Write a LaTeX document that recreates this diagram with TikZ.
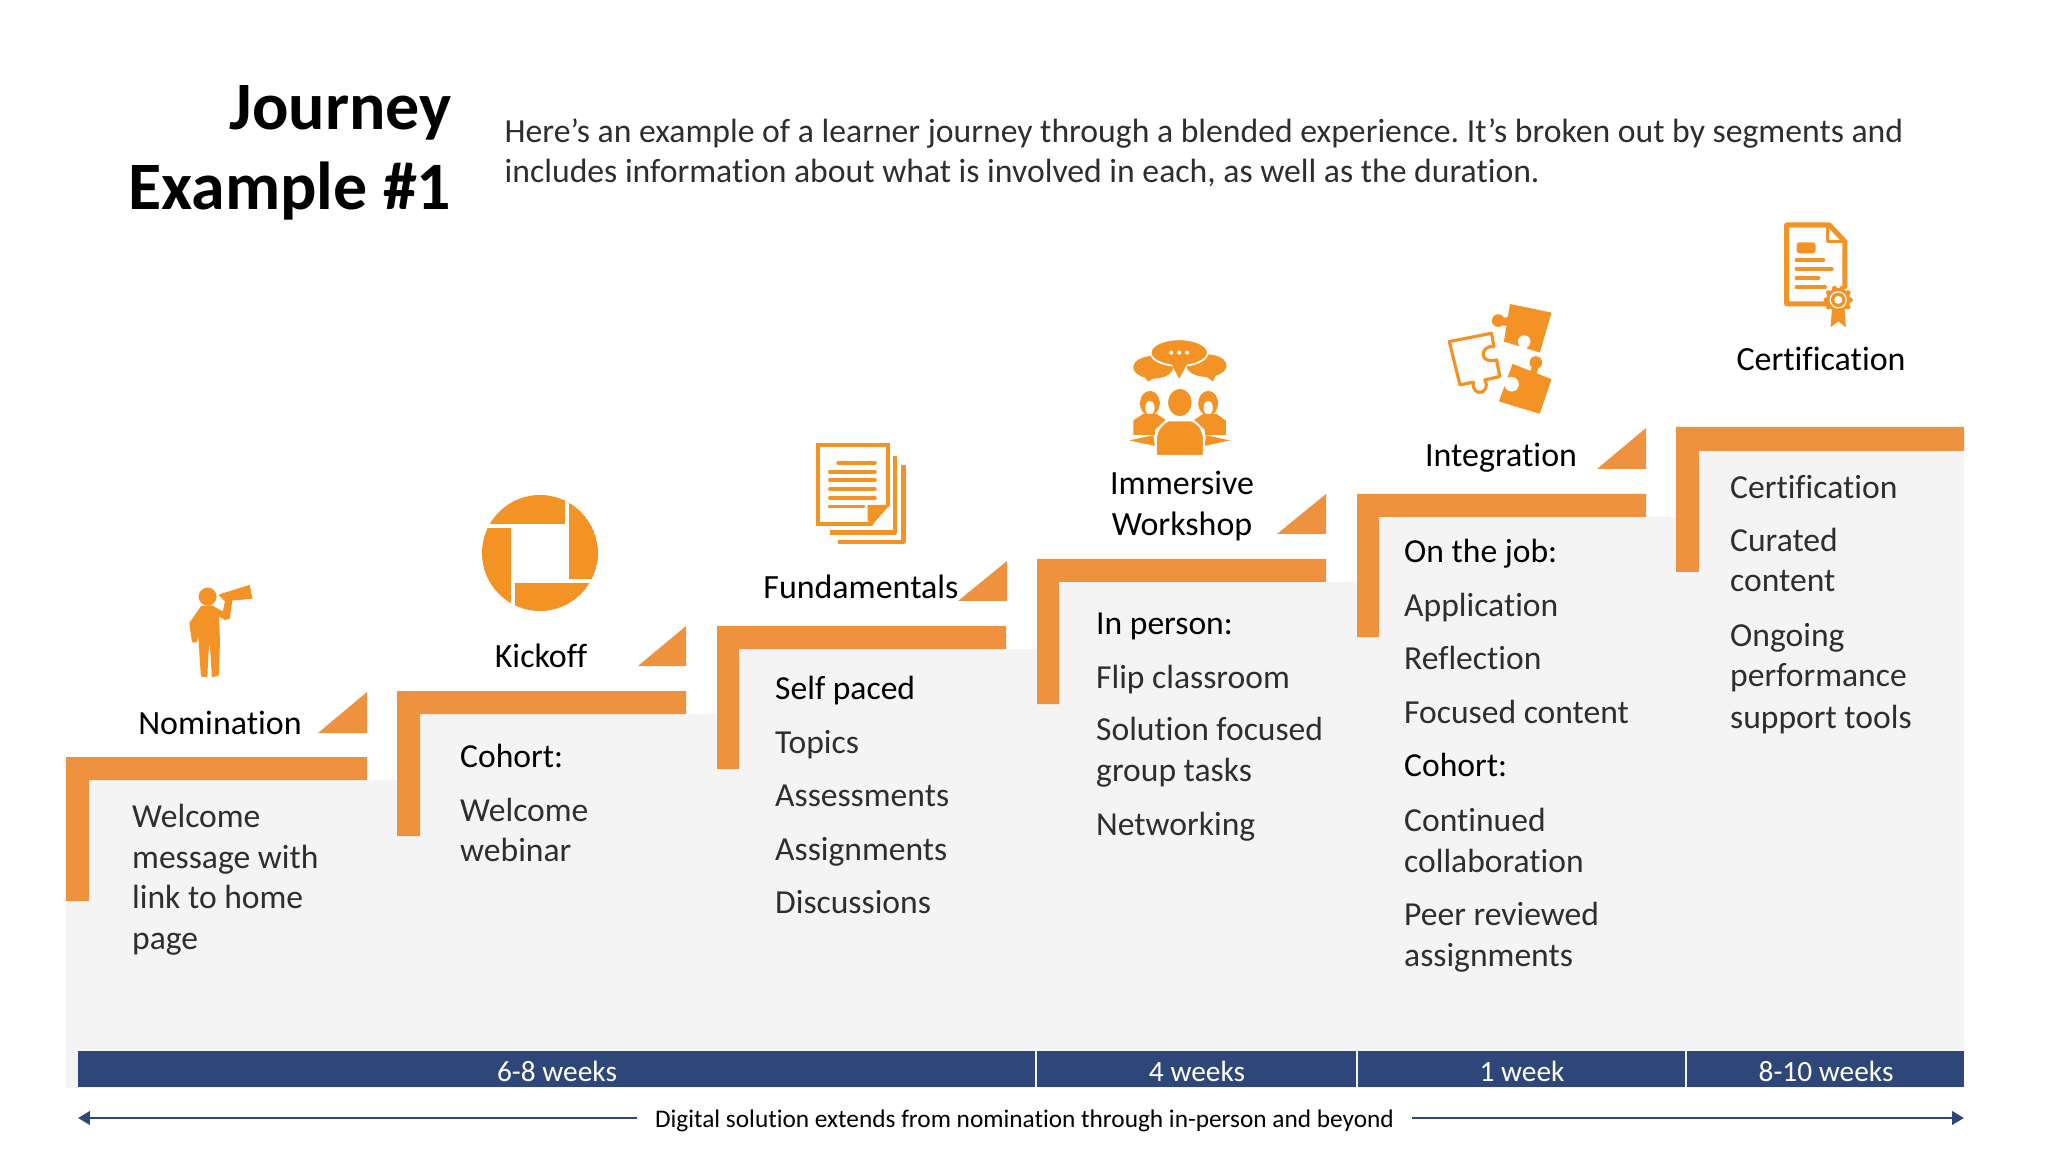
\documentclass[tikz,border=0pt]{standalone}
\usepackage{fontspec}
\setmainfont{Carlito}[Ligatures={NoCommon}]
\usetikzlibrary{arrows.meta}
\definecolor{stepgrey}{HTML}{F4F4F5}
\definecolor{barorange}{HTML}{EF9240}
\definecolor{iconorange}{HTML}{F39325}
\definecolor{navy}{HTML}{2F4778}
\definecolor{lighttext}{HTML}{2E2E2E}
\tikzset{
  x=0.01cm,y=-0.01cm,
  bodytxt/.style={anchor=base west,inner sep=0pt,xshift=-0.15pt,yshift=-0.55pt,text=lighttext,font=\fontsize{9.55pt}{11pt}\selectfont},
  headtxt/.style={bodytxt,text=black},
  labeltxt/.style={anchor=base,inner sep=0pt,yshift=-0.55pt,text=black,font=\fontsize{9.65pt}{11pt}\selectfont},
  titletxt/.style={anchor=base east,inner sep=0pt,yshift=-1.1pt,text=black,font=\fontsize{19.3pt}{23pt}\selectfont\bfseries},
  desctxt/.style={anchor=base west,inner sep=0pt,text=lighttext,font=\fontsize{9.58pt}{11pt}\selectfont},
  weektxt/.style={anchor=base,inner sep=0pt,text=white,font=\fontsize{8.35pt}{10pt}\selectfont},
  bandseg/.style={fill=navy,draw=none},
  stepbar/.style={fill=barorange,draw=none},
  spanline/.style={draw=navy,line width=0.8pt,-{Triangle[length=3.4pt,width=3.8pt]}},
  zoomthird/.style={x=0.003333cm,y=-0.003333cm},
  iconline/.style={draw=iconorange,line cap=round,line join=round}
}
\frenchspacing
\newcommand\bl[4]{\node[bodytxt] (#1) at (#2,#3) {#4};}
\newcommand\hl[4]{\node[headtxt] (#1) at (#2,#3) {#4};}
\begin{document}
\begin{tikzpicture}
\useasboundingbox (0,0) rectangle (2048,1152);
\fill[white] (0,0) rectangle (2048,1152);
% grey stairs
\fill[stepgrey] (66,1088) -- (66,780) -- (397,780) -- (397,714) -- (717,714) -- (717,649) -- (1037,649) -- (1037,582) -- (1357,582) -- (1357,517) -- (1676,517) -- (1676,451) -- (1964,451) -- (1964,1088) -- cycle;
% orange steps
\fill[stepbar] (66,757) -- (367,757) -- (367,780) -- (89,780) -- (89,901) -- (66,901) -- cycle;
\fill[stepbar] (397,691) -- (686,691) -- (686,714) -- (420,714) -- (420,836) -- (397,836) -- cycle;
\fill[stepbar] (717,626) -- (1006,626) -- (1006,649) -- (739,649) -- (739,769) -- (717,769) -- cycle;
\fill[stepbar] (1037,559) -- (1326,559) -- (1326,582) -- (1059,582) -- (1059,704) -- (1037,704) -- cycle;
\fill[stepbar] (1357,494) -- (1646,494) -- (1646,517) -- (1379,517) -- (1379,637) -- (1357,637) -- cycle;
\fill[stepbar] (1676,427) -- (1964,427) -- (1964,451) -- (1699,451) -- (1699,572) -- (1676,572) -- cycle;
% triangles
\fill[stepbar] (318,733) -- (367,692) -- (367,733) -- cycle;
\fill[stepbar] (638,666) -- (686,626) -- (686,666) -- cycle;
\fill[stepbar] (958,601) -- (1007,561) -- (1007,601) -- cycle;
\fill[stepbar] (1277,534) -- (1326,494) -- (1326,534) -- cycle;
\fill[stepbar] (1597,469) -- (1646,428) -- (1646,469) -- cycle;
% title and intro
\node[titletxt] (title1) at (452,126) {Journey};
\node[titletxt] (title2) at (452,206) {Example \#1};
\node[desctxt] (intro1) at (504,142.5) {Here’s an example of a learner journey through a blended experience. It’s broken out by segments and};
\node[desctxt] (intro2) at (504,183) {includes information about what is involved in each, as well as the duration.};
% labels
\node[labeltxt] (lab1) at (220,733) {Nomination};
\node[labeltxt] (lab2) at (541,666) {Kickoff};
\node[labeltxt] (lab3) at (861,597) {Fundamentals};
\node[labeltxt] (lab4a) at (1182,493) {Immersive};
\node[labeltxt] (lab4b) at (1182,534) {Workshop};
\node[labeltxt] (lab5) at (1501,465) {Integration};
\node[labeltxt] (lab6) at (1821,369) {Certification};
% step 1
\bl{a1}{132}{826}{Welcome}
\bl{a2}{132}{867}{message with}
\bl{a3}{132}{907}{link to home}
\bl{a4}{132}{948}{page}
% step 2
\hl{b1}{460}{766}{Cohort:}
\bl{b2}{460}{820}{Welcome}
\bl{b3}{460}{860}{webinar}
% step 3
\hl{c1}{775}{698}{Self paced}
\bl{c2}{775}{752}{Topics}
\bl{c3}{775}{805}{Assessments}
\bl{c4}{775}{859}{Assignments}
\bl{c5}{775}{912}{Discussions}
% step 4
\hl{d1}{1096}{633}{In person:}
\bl{d2}{1096}{687}{Flip classroom}
\bl{d3}{1096}{739}{Solution focused}
\bl{d4}{1096}{780}{group tasks}
\bl{d5}{1096}{834}{Networking}
% step 5
\hl{e1}{1404}{561}{On the job:}
\bl{e2}{1404}{615}{Application}
\bl{e3}{1404}{668}{Reflection}
\bl{e4}{1404}{722}{Focused content}
\hl{e5}{1404}{775}{Cohort:}
\bl{e6}{1404}{830}{Continued}
\bl{e7}{1404}{871}{collaboration}
\bl{e8}{1404}{924}{Peer reviewed}
\bl{e9}{1404}{965}{assignments}
% step 6
\bl{f1}{1730}{497}{Certification}
\bl{f2}{1730}{550}{Curated}
\bl{f3}{1730}{590}{content}
\bl{f4}{1730}{645}{Ongoing}
\bl{f5}{1730}{685}{performance}
\bl{f6}{1730}{727}{support tools}
% time band
\fill[bandseg] (78,1051) rectangle (1035,1087);
\fill[bandseg] (1037,1051) rectangle (1356,1087);
\fill[bandseg] (1358,1051) rectangle (1685,1087);
\fill[bandseg] (1687,1051) rectangle (1964,1087);
\node[weektxt] (w1) at (557,1081) {6-8 weeks};
\node[weektxt] (w2) at (1197,1081) {4 weeks};
\node[weektxt] (w3) at (1522,1081) {1 week};
\node[weektxt] (w4) at (1826,1081) {8-10 weeks};
% span arrow
\node[anchor=base,inner ysep=0pt,inner xsep=0pt,outer xsep=5.2pt,text=black,font=\fontsize{7.2pt}{9pt}\selectfont] (span) at (1024.5,1127) {Digital solution extends from nomination through in-person and beyond};
\coordinate (spanL) at (78,1118);
\coordinate (spanR) at (1964,1118);
\draw[spanline] (span.west |- spanL) -- (spanL);
\draw[spanline] (span.east |- spanR) -- (spanR);
% person icon
\begin{scope}[shift={(170,570)},zoomthird]
\fill[iconorange] (113,80) circle[radius=27];
\filldraw[iconorange,line width=0.3pt,line join=round] (148,75) -- (238,47) -- (246,85) -- (165,92) -- cycle;
\filldraw[iconorange,line width=0.4pt,line join=round] (95,110) -- (125,108) -- (160,128) -- (168,92) -- (185,92) -- (178,145) -- (165,148) -- (145,135) -- (148,215) -- (145,315) -- (128,320) -- (122,225) -- (115,225) -- (110,320) -- (95,318) -- (88,215) -- (85,175) -- (80,215) -- (68,215) -- (60,160) -- cycle;
\end{scope}
% shutter icon
\begin{scope}
\clip (540,553) circle[radius=58];
\fill[iconorange] (540,553) circle[radius=58];
\fill[white] (511,528) rectangle (565,579);
\fill[white] (470,524) rectangle (565,528);
\fill[white] (565,490) rectangle (569,583);
\fill[white] (515,579) rectangle (610,583);
\fill[white] (511,524) rectangle (515,620);
\end{scope}
% documents icon
\begin{scope}[shift={(780,420)},zoomthird]
\draw[iconline,line width=1.1pt,line join=miter] (325,255) -- (325,74) -- (114,74) -- (114,312) -- (275,312);
\fill[iconorange] (263,255) -- (330,255) -- (275,318) -- (263,300) -- cycle;
\foreach \yy/\xa/\xb in {128/175/285,155/150/285,181/150/285,207/150/285,234/150/285,260/150/250}
  \draw[iconline,line width=1.1pt] (\xa,\yy) -- (\xb,\yy);
\draw[iconline,line width=1.2pt,line cap=butt] (345,108) -- (345,338) -- (150,338);
\draw[iconline,line width=1.2pt,line cap=butt] (371,135) -- (371,366) -- (175,366);
\end{scope}
% group icon
\begin{scope}[shift={(1100,330)},zoomthird]
\fill[iconorange] (120,125) -- (145,155) -- (175,135) -- cycle;
\fill[iconorange] (160,112) ellipse[x radius=60,y radius=34];
\fill[iconorange] (305,130) -- (340,155) -- (350,125) -- cycle;
\fill[iconorange] (320,107) ellipse[x radius=60,y radius=34];
\fill[iconorange] (212,98) -- (238,145) -- (265,98) -- cycle;
\filldraw[fill=iconorange,draw=white,line width=0.5pt] (238,68) ellipse[x radius=86,y radius=40];
\fill[iconorange] (215,100) -- (238,145) -- (262,100) -- cycle;
\foreach \xx in {214,238,262} \fill[white] (\xx,68) circle[radius=6];
% side people
\fill[iconorange] (150,220) ellipse[x radius=30,y radius=37];
\fill[white] (150,234) ellipse[x radius=14,y radius=21];
\fill[iconorange] (100,315) -- (100,272) -- (130,252) -- (170,252) -- (197,270) -- (165,300) -- (165,315) -- cycle;
\fill[iconorange] (88,332) -- (160,316) -- (165,348) -- cycle;
\fill[iconorange] (325,220) ellipse[x radius=30,y radius=37];
\fill[white] (325,234) ellipse[x radius=14,y radius=21];
\fill[iconorange] (378,315) -- (378,272) -- (350,252) -- (310,252) -- (283,270) -- (315,300) -- (315,315) -- cycle;
\fill[iconorange] (390,332) -- (318,316) -- (315,348) -- cycle;
% central person
\filldraw[fill=iconorange,draw=white,line width=0.5pt] (240,218) ellipse[x radius=38,y radius=44];
\filldraw[fill=iconorange,draw=white,line width=0.5pt] (168,378) -- (168,325) .. controls (172,295) and (190,280) .. (205,272) -- (275,272) .. controls (295,280) and (308,295) .. (312,325) -- (312,378) -- cycle;
\end{scope}
% puzzle icon
\begin{scope}[shift={(1430,290)},zoomthird]
\fill[iconorange] (205,92) circle[radius=19];
\fill[iconorange] (210,87) -- (238,80) -- (236,108) -- (212,106) -- cycle;
\fill[iconorange] (240,42) -- (365,68) -- (330,188) -- (222,155) -- cycle;
\fill[white] (283,155) circle[radius=19];
\fill[white] (272,160) -- (294,160) -- (290,182) -- (268,176) -- cycle;
\fill[iconorange] (318,218) circle[radius=19];
\fill[iconorange] (308,225) -- (328,225) -- (320,256) -- (300,248) -- cycle;
\fill[iconorange] (248,222) -- (365,268) -- (330,372) -- (207,335) -- cycle;
\fill[white] (245,283) circle[radius=22];
\draw[iconline,line width=0.9pt] (58,155) -- (185,130) -- (192,170) .. controls (150,165) and (145,225) .. (200,210) -- (210,260) -- (165,270) .. controls (185,312) and (125,325) .. (130,277) -- (90,285) -- cycle;
\end{scope}
% certificate icon
\begin{scope}[shift={(1770,210)},zoomthird]
\draw[iconline,line width=1.45pt] (165,282) -- (50,282) -- (50,45) -- (178,45) -- (225,95) -- (225,230);
\draw[iconline,line width=1.0pt] (172,45) -- (172,95) -- (225,95);
\fill[iconorange,rounded corners=0.8pt] (80,97) rectangle (137,130);
\foreach \yy/\xb in {150/160,177/185,205/145,232/165}
  \draw[iconline,line width=1.2pt] (80,\yy) -- (\xb,\yy);
\fill[iconorange] (186,300) -- (182,352) -- (205,335) -- (228,352) -- (224,300) -- cycle;
\fill[iconorange] (205,270) circle[radius=36];
\foreach \ang in {0,36,...,324} \fill[iconorange] (205,270) ++(\ang:36) circle[radius=8];
\fill[white] (205,270) circle[radius=26];
\fill[iconorange] (205,270) circle[radius=22];
\fill[white] (205,270) circle[radius=12];
\end{scope}
\end{tikzpicture}
\end{document}
